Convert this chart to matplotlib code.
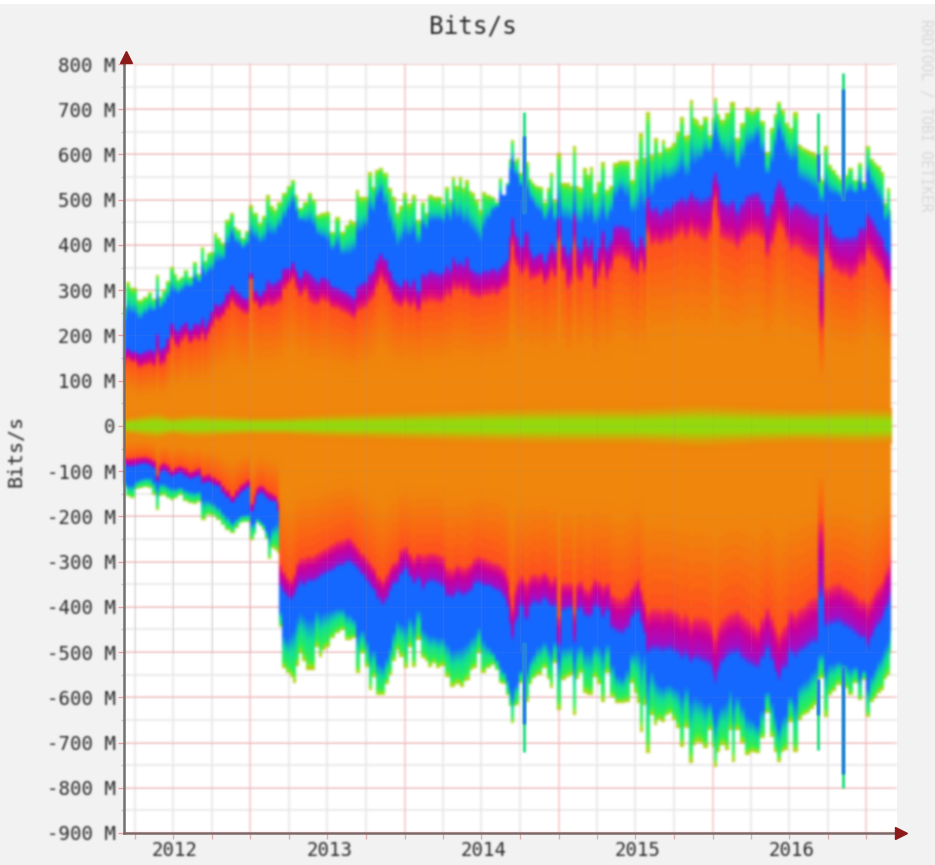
import numpy as np
import matplotlib
matplotlib.use("Agg")
import matplotlib.pyplot as plt
from matplotlib.collections import PathCollection
from matplotlib.colors import to_rgb

# values in M bit/s, positions in chart sample columns
top_x = [124,127,133,140,146,150,154,157,160,163,168,172,175,178,182,185,190,195,199,202,205,208,212,215,219,222,227,232,235,238,243,247,251,255,260,264,268,272,275,279,284,289,293,296,300,305,310,314,317,322,327,332,337,343,347,350,354,357,361,365,370,373,377,380,385,390,394,397,401,405,408,410,413,418,
423,426,430,435,440,443,447,450,453,457,460,463,467,470,473,477,480,483,488,493,497,500,504,507,510,512,515,517,520,527,530,533,537,540,545,548,551,555,559,563,568,571,574,577,580,585,588,591,595,599,603,607,611,615,621,627,632,637,641,644,648,652,655,660,663,667,670,674,677,682,685,688,691,694,697,701,705,710,713,715,718,722,727,733,737,742,747,752,757,762,767,772,775,778,783,787,790,795,800,804,808,812,817,820,822,825,830,834,837,841,846,850,855,860,863,868,872,875,879,882,885,888,891]
top_total = [263,318,305,278,285,296,280,334,285,300,320,352,335,323,330,345,330,362,335,396,365,382,385,427,415,404,455,471,440,433,415,431,488,471,449,465,510,485,477,495,515,530,544,510,482,495,515,500,466,470,473,429,462,429,445,455,450,522,505,506,561,528,565,570,560,526,505,471,485,515,490,493,510,455,
495,470,510,505,506,490,528,500,550,530,550,525,544,520,515,500,477,517,510,506,495,548,510,537,590,632,585,592,559,584,545,537,530,528,495,525,559,500,603,537,537,530,619,530,526,570,555,572,515,540,584,522,530,581,585,586,544,588,648,592,694,599,637,603,632,615,617,625,650,683,640,643,721,680,676,665,683,643,680,725,690,676,692,716,637,670,703,695,703,675,606,659,690,716,698,670,659,694,621,615,610,605,599,550,544,619,577,565,555,545,555,570,544,581,539,619,590,581,575,561,493,526,477]
top_blue = [165,172,165,161,165,170,165,206,170,175,195,228,215,210,222,230,215,228,225,240,220,235,255,272,268,275,295,312,300,295,285,283,338,300,290,300,323,315,318,325,350,350,362,345,330,345,338,330,320,330,325,310,307,300,295,290,285,310,315,320,338,345,370,382,370,345,325,316,310,325,320,310,325,300,
338,335,345,340,338,340,355,345,374,360,365,355,374,350,345,340,338,345,345,350,345,351,360,370,420,462,430,420,400,430,390,374,380,385,365,385,404,390,462,400,382,395,471,400,390,418,400,415,367,395,433,395,410,444,445,440,410,396,420,400,506,480,485,471,480,485,480,495,500,506,500,505,520,505,505,500,504,510,545,561,540,500,490,500,477,495,510,515,517,500,471,495,525,544,530,505,484,495,490,485,477,470,471,345,338,471,445,425,418,415,418,418,420,440,440,471,460,445,430,418,395,385,367]
top_red = [135,146,140,128,132,135,130,150,130,135,155,190,175,170,185,195,180,190,185,200,185,200,215,234,230,240,255,272,262,255,248,245,323,270,256,262,263,260,265,270,300,312,323,300,285,295,272,265,265,275,270,258,256,250,245,240,235,250,255,258,272,280,305,323,310,290,270,263,260,270,265,258,265,250,
270,268,272,270,268,272,285,280,300,295,300,290,295,285,282,280,278,285,285,290,285,294,300,305,350,396,355,345,330,340,320,323,325,330,310,320,338,325,404,340,300,310,396,320,315,351,340,345,300,325,350,320,340,367,370,362,340,330,360,335,420,395,400,396,400,405,400,410,415,425,410,415,430,415,420,410,404,420,470,500,450,410,405,400,389,405,415,420,418,410,370,395,420,440,430,405,385,390,385,375,370,365,360,210,206,380,360,340,338,330,330,320,330,350,350,382,370,360,350,338,315,305,294]
ceil_top_x = [124,140,172,215,232,268,293,327,350,370,380,397,418,423,453,480,512,540,575,605,620,640,660,690,715,730,757,770,778,800,822,850,868,891]
ceil_top = [235,240,285,351,404,411,477,404,382,462,500,411,418,440,462,418,559,471,455,455,515,471,544,559,632,572,625,572,632,550,506,515,537,440]

bot_x = [124,127,133,137,140,145,150,154,157,160,163,168,172,176,180,185,190,195,198,203,208,213,218,223,227,233,237,240,244,248,252,255,257,260,263,267,269,272,275,278,280,283,288,291,294,297,300,304,308,313,317,320,324,327,332,337,342,348,355,357,362,367,370,373,378,383,387,390,394,397,401,406,410,414,418,
423,426,430,434,438,442,447,453,457,462,465,468,471,475,479,483,488,493,497,500,504,507,510,512,515,517,520,527,530,533,539,545,548,551,555,559,563,568,571,574,577,580,585,589,591,595,599,603,607,612,617,622,627,632,635,638,641,644,648,652,655,659,663,667,670,674,677,682,685,687,691,694,697,701,705,710,713,715,718,722,727,730,733,737,742,747,752,757,762,767,772,775,778,783,785,790,795,800,804,808,812,816,820,822,825,830,834,838,846,850,855,860,863,868,872,875,879,882,885,888,891]
bot_total = [-135,-155,-159,-140,-137,-135,-137,-152,-186,-155,-152,-160,-164,-160,-152,-165,-170,-172,-168,-208,-197,-200,-208,-220,-230,-236,-225,-215,-213,-212,-252,-240,-215,-222,-230,-250,-294,-270,-274,-281,-444,-535,-547,-555,-568,-530,-502,-520,-539,-539,-488,-510,-495,-488,-470,-458,-451,-473,-469,-546,-502,-532,-584,-555,-595,-595,-570,-550,-520,-495,-510,-535,-488,-532,-473,
-513,-520,-532,-525,-535,-530,-555,-577,-570,-577,-565,-561,-540,-535,-502,-546,-535,-528,-540,-568,-570,-595,-620,-657,-620,-617,-568,-610,-570,-557,-550,-535,-560,-579,-524,-628,-561,-555,-550,-639,-560,-546,-590,-595,-595,-555,-570,-610,-546,-600,-612,-612,-610,-568,-590,-612,-676,-617,-723,-640,-661,-650,-654,-640,-635,-650,-668,-709,-665,-668,-745,-705,-698,-700,-712,-672,-710,-753,-720,-705,-716,-672,-742,-672,-700,-727,-720,-723,-690,-635,-687,-720,-742,-722,-716,-654,-720,-650,-640,-635,-625,-617,-560,-557,-643,-595,-585,-572,-580,-595,-568,-606,-561,-643,-610,-601,-590,-584,-560,-550,-502]
bot_blue = [-85,-90,-90,-88,-85,-85,-88,-95,-124,-105,-100,-105,-113,-108,-105,-112,-118,-115,-112,-128,-125,-130,-135,-150,-160,-170,-160,-150,-145,-137,-190,-175,-155,-148,-152,-160,-165,-168,-168,-190,-356,-370,-380,-385,-375,-360,-347,-355,-345,-345,-340,-334,-330,-325,-320,-312,-310,-303,-310,-318,-330,-345,-356,-365,-385,-396,-385,-365,-350,-347,-330,-318,-335,-350,-340,
-362,-350,-345,-345,-350,-356,-378,-380,-370,-375,-375,-370,-365,-350,-347,-355,-355,-360,-365,-369,-380,-400,-440,-473,-440,-430,-400,-430,-400,-391,-395,-385,-395,-400,-400,-488,-410,-405,-405,-480,-410,-405,-420,-425,-420,-400,-405,-425,-410,-450,-458,-460,-450,-425,-415,-413,-440,-460,-502,-495,-495,-495,-500,-495,-495,-500,-505,-515,-505,-510,-525,-515,-515,-520,-524,-530,-550,-568,-545,-525,-510,-505,-505,-502,-515,-525,-530,-535,-515,-495,-520,-545,-561,-540,-535,-502,-510,-500,-495,-488,-480,-480,-380,-378,-444,-440,-437,-435,-445,-451,-460,-470,-470,-488,-470,-450,-440,-429,-410,-395,-378]
bot_red = [-68,-71,-70,-68,-68,-67,-70,-75,-108,-85,-80,-85,-97,-90,-88,-92,-100,-95,-92,-108,-105,-112,-119,-130,-140,-153,-140,-130,-125,-118,-170,-150,-135,-130,-132,-140,-145,-148,-153,-165,-303,-320,-334,-340,-325,-300,-290,-290,-285,-285,-280,-274,-270,-265,-260,-252,-250,-245,-255,-267,-280,-290,-300,-310,-330,-340,-325,-310,-300,-296,-270,-265,-280,-290,-280,
-281,-280,-278,-278,-280,-285,-312,-315,-305,-310,-312,-305,-300,-290,-285,-290,-295,-298,-300,-305,-312,-330,-370,-400,-360,-340,-330,-340,-330,-325,-328,-320,-330,-340,-330,-420,-345,-345,-345,-410,-345,-340,-355,-360,-350,-335,-340,-350,-345,-370,-378,-378,-370,-355,-340,-334,-360,-385,-410,-400,-400,-400,-405,-400,-400,-405,-410,-420,-410,-415,-430,-420,-420,-420,-422,-430,-450,-466,-440,-425,-415,-410,-410,-405,-415,-425,-435,-444,-420,-400,-420,-440,-458,-445,-435,-405,-410,-400,-395,-385,-378,-375,-210,-208,-355,-352,-348,-345,-355,-360,-370,-380,-380,-390,-375,-360,-350,-340,-320,-305,-280]
ceil_bot_x = [124,150,172,200,233,250,278,280,285,300,330,350,375,385,397,418,423,455,480,512,540,575,605,620,640,660,690,715,730,757,770,778,800,822,850,868,891]
ceil_bot = [-126,-119,-135,-150,-205,-200,-252,-400,-444,-422,-407,-422,-502,-517,-444,-422,-451,-488,-458,-577,-488,-495,-490,-555,-495,-577,-584,-635,-598,-650,-606,-650,-577,-517,-532,-561,-458]

spike_x = [524,818,843]
spike_top = [694,692,780]
spike_top_blue = [640,600,745]
spike_bot = [-720,-716,-800]
spike_bot_blue = [-660,-640,-770]
spike_root_top = [470,540,500]
spike_root_bot = [-480,-560,-530]

core_x = [124,157,172,195,250,280,330,380,430,480,560,640,700,760,800,860,892]
core_half = [5,9,6,8,6,6,8,9,10,11,12,12,14,12,11,12,11]

y_ticks = list(range(-900,900,100))
y_labels = [f"{v} M" if v else "0" for v in y_ticks]
y_minor = list(range(-850,800,100))
year_pos = [175,329.5,484,638,792]
year_labels = ["2012","2013","2014","2015","2016"]
major_x = [250,405,559,713,866]
minor_x = [135,173,212,289,327,366,443,481,520,597,635,674,751,789,828]

lim_x = (124,897)
stops_red = [(0.0,'#F0860C'),(0.52,'#F0860C'),(0.8,'#FA6A12'),(1.0,'#FF501E')]
stops_mag = [(0.0,'#FF501E'),(0.15,'#EE2060'),(0.42,'#CC0098'),(0.85,'#A010C8'),(1.0,'#3050F8')]
stops_top = [(0.0,'#1568FF'),(0.18,'#10A0D8'),(0.42,'#10E096'),(0.82,'#30F050'),(0.95,'#A0E414'),(1.0,'#C8B400')]
stops_core = [(0.0,'#90DC10'),(1.0,'#9CD80C'),(1.6,'#B4C408'),(2.5,'#DCA008'),(3.6,'#F0860C')]

def blend(stops, f):
    xs=[s[0] for s in stops]
    cs=np.array([to_rgb(s[1]) for s in stops])
    return tuple(np.interp(f,xs,cs[:,i]) for i in range(3))

def soften(im, dpi):
    pad=4
    out=np.pad(im,((pad,pad),(pad,pad),(0,0))).astype(float)
    a=out[...,3:4]
    out=np.concatenate([out[...,:3]*a,a],axis=2)
    kernel=[0.06,0.24,0.40,0.24,0.06]
    for axis in (0,1):
        out=sum(np.roll(out,i-2,axis)*k for i,k in enumerate(kernel))
    a=np.clip(out[...,3:4],1e-4,1)
    rgb=np.clip(out[...,:3]/a,0,1)
    return np.concatenate([rgb,out[...,3:4]],axis=2),-pad,-pad

fig=plt.figure(figsize=(9.35,8.65),dpi=100,facecolor='#F2F2F2')
ax=fig.add_axes([124/935,1-833/865,(897-124)/935,(833-64)/865],facecolor='white')
ax.set_xlim(*lim_x); ax.set_ylim(-900,800)

# grid
for v in y_minor:
    ax.axhline(v,color='#E8E8E8',lw=1.2,zorder=1).set_agg_filter(soften)
for v in minor_x:
    ax.axvline(v,color='#EAE6E8',lw=1.2,zorder=1).set_agg_filter(soften)
for v in y_ticks:
    ax.axhline(v,color='#F6C4C4',lw=1.1,zorder=1.2).set_agg_filter(soften)
for v in major_x:
    ax.axvline(v,color='#F6C4C4',lw=1.1,zorder=1.2).set_agg_filter(soften)

layer_paths=[]; layer_colors=[]
def add_layer(x,y1,y2,color,**kw):
    p=ax.fill_between(x,y1,y2,lw=0,**kw)
    layer_paths.append(p.get_paths()[0]); layer_colors.append(color)
    p.remove()

def stack(x,total,blue,red,cx,cv):
    x=np.array(x,float); total=np.array(total,float); blue=np.array(blue,float); red=np.array(red,float)
    sign=np.sign(total[0])
    ceil=np.abs(np.interp(x,cx,cv))
    env=np.abs(total)
    # the blue ceiling follows the jagged envelope a little
    local=np.convolve(np.pad(env,4,mode='edge'),np.ones(9)/9,mode='valid')
    ceil=ceil+0.4*(env-local)
    ceil=sign*np.minimum(env,np.maximum(ceil,np.abs(blue)))
    def band(lo,hi,stops,n):
        for f in np.linspace(1,0,n,endpoint=False):
            add_layer(x,0,lo+(hi-lo)*f,blend(stops,f-0.5/n),step='mid')
    band(ceil,total,stops_top,22)
    add_layer(x,0,ceil,'#1568FF',step='mid')
    band(red,blue,stops_mag,14)
    band(0*red,red,stops_red,14)

stack(top_x,top_total,top_blue,top_red,ceil_top_x,ceil_top)
stack(bot_x,bot_total,bot_blue,bot_red,ceil_bot_x,ceil_bot)

cx=np.array(core_x,float); ch=np.array(core_half,float)
for k in np.linspace(3.6,0.05,24):
    add_layer(cx,-ch*k,ch*k,blend(stops_core,k))

flow=PathCollection(layer_paths,facecolors=layer_colors,edgecolors='none',linewidths=0,
                    transform=ax.transData,zorder=2)
flow.set_agg_filter(soften)
ax.add_collection(flow)

for sx,st,stb,sb,sbb,rt,rb in zip(spike_x,spike_top,spike_top_blue,spike_bot,spike_bot_blue,spike_root_top,spike_root_bot):
    for a,b,c,z in [(rt,st,'#28E080',3),(rt,stb,'#2C70F4',3.1),(sb,rb,'#28E080',3),(sbb,rb,'#2C70F4',3.1)]:
        ax.vlines(sx,a,b,color=c,lw=2.2,zorder=z).set_agg_filter(soften)

# the grid shows faintly through the filled area
for v in major_x+minor_x:
    ax.vlines(v,-500,500,color='#B09090',lw=1,alpha=0.13,zorder=3.5)
for v in y_ticks:
    ax.hlines(v,124,891,color='#B09090',lw=1,alpha=0.08,zorder=3.5)

ax.set_xlim(*lim_x); ax.set_ylim(-900,800)

# axes furniture
for s in ['top','right']:
    ax.spines[s].set_visible(False)
ax.spines['left'].set_color('#707070'); ax.spines['left'].set_linewidth(1.8)
ax.spines['bottom'].set_color('#806868'); ax.spines['bottom'].set_linewidth(1.8)
ax.set_yticks(y_ticks)
ax.set_yticklabels(y_labels,family='DejaVu Sans Mono',fontsize=13.7,color='#262626')
ax.set_yticks(y_minor,minor=True)
ax.set_xticks(year_pos)
ax.set_xticklabels(year_labels,family='DejaVu Sans Mono',fontsize=13.7,color='#262626')
ax.set_xticks(major_x+minor_x,minor=True)
ax.tick_params(axis='y',which='major',length=4,width=1,color='#E8A0A0',pad=2)
ax.tick_params(axis='y',which='minor',length=2,width=1,color='#C8C8C8')
ax.tick_params(axis='x',which='major',length=0,pad=6)
ax.tick_params(axis='x',which='minor',length=4,width=1,color='#E0B0B0')
ax.plot([0,0],[1,1.008],transform=ax.transAxes,color='#707070',lw=1.8,clip_on=False,zorder=6)
ax.plot([1,1.006],[0,0],transform=ax.transAxes,color='#806868',lw=1.8,clip_on=False,zorder=6)
ax.plot([0.002],[1.009],marker='^',ms=8,color='#8B1A1A',transform=ax.transAxes,clip_on=False,zorder=7)
ax.plot([1.0055],[0.0],marker='>',ms=8,color='#8B1A1A',transform=ax.transAxes,clip_on=False,zorder=7)
for t in ax.get_xticklabels()+ax.get_yticklabels():
    t.set_agg_filter(soften)

titles=[fig.text(473/935,1-27/865,"Bits/s",family='DejaVu Sans Mono',fontsize=17.5,color='#262626',ha='center',va='center'),
        fig.text(16/935,1-451/865,"Bits/s",family='DejaVu Sans Mono',fontsize=14.4,color='#262626',rotation=90,ha='center',va='center'),
        fig.text(926/935,1-115/865,"RRDTOOL / TOBI OETIKER",family='DejaVu Sans Mono',fontsize=10.5,color='#D8D8D8',rotation=270,ha='center',va='center')]
for t in titles:
    t.set_agg_filter(soften)
fig.patches.append(plt.Rectangle((0,1-4/865),1,4/865,transform=fig.transFigure,color='white',lw=0))
fig.savefig('out.png',dpi=100,facecolor=fig.get_facecolor())
